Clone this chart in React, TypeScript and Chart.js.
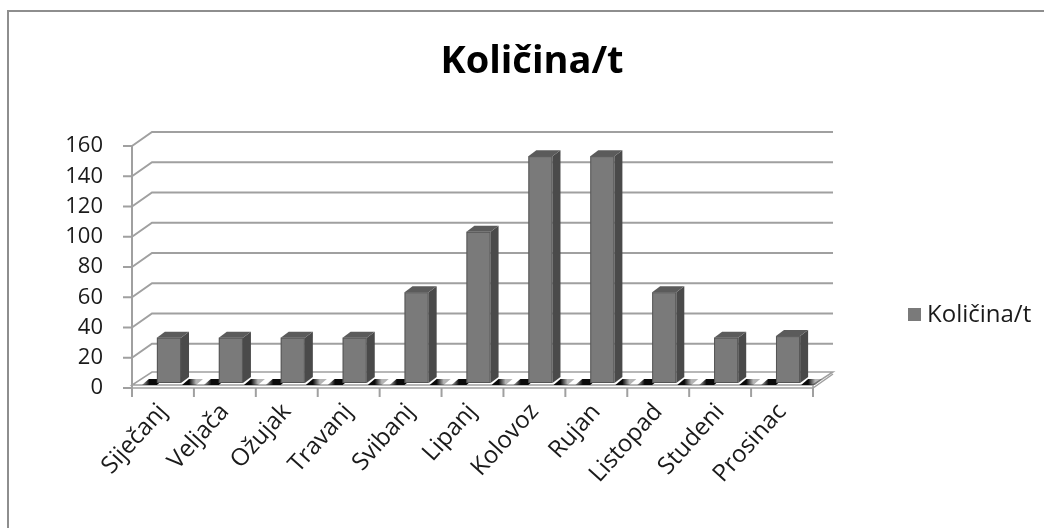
import React, { useEffect, useRef } from "react";
import { Chart, registerables } from "chart.js";

Chart.register(...registerables);

const months = [
  "Siječanj",
  "Veljača",
  "Ožujak",
  "Travanj",
  "Svibanj",
  "Lipanj",
  "Kolovoz",
  "Rujan",
  "Listopad",
  "Studeni",
  "Prosinac",
];
const quantities = [30, 30, 30, 30, 60, 100, 150, 150, 60, 30, 31];
const seriesLabel = "Količina/t";
const chartTitle = "Količina/t";
const yMin = 0;
const yMax = 160;
const yStep = 20;

const FONT = "'Open Sans', sans-serif";
const BAR_FRONT = "#7a7a7a";
const BAR_SIDE = "#4a4a4a";
const BAR_TOP = "#5b5b5b";
const GRID = "#a0a0a0";
const TEXT = "#1a1a1a";

// 3D depth geometry (pixels)
const WALL_DX = 20;
const WALL_DY = -14;
const BAR_OX = 6;
const BAR_OY = -5;
const BAR_DX = 8;
const BAR_DY = -6;

const threeD = {
  id: "threeD",
  beforeDatasetsDraw(chart: any) {
    const { ctx, chartArea } = chart;
    const ys = chart.scales.y;
    const left = chartArea.left;
    const right = chartArea.right;
    const base = ys.getPixelForValue(0);
    ctx.save();
    ctx.lineCap = "butt";

    // floor slab
    const fTop = base - 3;
    ctx.fillStyle = "#ffffff";
    ctx.strokeStyle = GRID;
    ctx.lineWidth = 1.5;
    ctx.beginPath();
    ctx.moveTo(left, fTop);
    ctx.lineTo(right, fTop);
    ctx.lineTo(right + WALL_DX, fTop + WALL_DY + 1);
    ctx.lineTo(left + WALL_DX, fTop + WALL_DY + 1);
    ctx.closePath();
    ctx.fill();
    ctx.stroke();
    ctx.beginPath();
    ctx.moveTo(left, base);
    ctx.lineTo(right, base);
    ctx.lineTo(right + WALL_DX, base + WALL_DY);
    ctx.moveTo(right, fTop);
    ctx.lineTo(right, base);
    ctx.stroke();

    // back wall gridlines + diagonals + y ticks
    ctx.strokeStyle = GRID;
    ctx.lineWidth = 2;
    for (let v = yMin; v <= yMax; v += yStep) {
      const py = ys.getPixelForValue(v);
      ctx.beginPath();
      if (v > yMin) {
        ctx.moveTo(left, py);
        ctx.lineTo(left + WALL_DX, py + WALL_DY);
        ctx.lineTo(right + WALL_DX, py + WALL_DY);
      }
      ctx.moveTo(left - 9, py);
      ctx.lineTo(left, py);
      ctx.stroke();
    }
    // y axis line
    ctx.beginPath();
    ctx.moveTo(left, ys.getPixelForValue(yMax));
    ctx.lineTo(left, base + 9);
    ctx.stroke();
    // x ticks at category boundaries
    const n = months.length;
    for (let i = 0; i <= n; i++) {
      const px = left + ((right - left) * i) / n;
      ctx.beginPath();
      ctx.moveTo(px, base);
      ctx.lineTo(px, base + 9);
      ctx.stroke();
    }

    // floor shadows next to each bar
    const meta = chart.getDatasetMeta(0);
    meta.data.forEach((el: any) => {
      const p = el.getProps(["x", "y", "base", "width"], true);
      const fl = p.x - p.width / 2 + BAR_OX;
      const fr = p.x + p.width / 2 + BAR_OX;
      const by = p.base + BAR_OY + 2;
      const drawBlob = (x0: number, x1: number, rev: boolean) => {
        const g = ctx.createLinearGradient(x0, 0, x1, 0);
        g.addColorStop(0, rev ? "rgba(10,10,10,1)" : "rgba(10,10,10,0.3)");
        g.addColorStop(0.5, "rgba(10,10,10,1)");
        g.addColorStop(1, rev ? "rgba(10,10,10,0.3)" : "rgba(10,10,10,1)");
        ctx.fillStyle = g;
        ctx.beginPath();
        ctx.moveTo(x0, by);
        ctx.lineTo(x1, by);
        ctx.lineTo(x1 + 7, by - 6);
        ctx.lineTo(x0 + 7, by - 6);
        ctx.closePath();
        ctx.fill();
      };
      drawBlob(fl - 15, fl, false);
      drawBlob(fr + 1, fr + 15, true);
    });
    ctx.restore();
  },
  afterDatasetsDraw(chart: any) {
    const { ctx } = chart;
    const meta = chart.getDatasetMeta(0);
    ctx.save();
    meta.data.forEach((el: any) => {
      const p = el.getProps(["x", "y", "base", "width"], true);
      const l = p.x - p.width / 2 + BAR_OX;
      const r = p.x + p.width / 2 + BAR_OX;
      const t = p.y + BAR_OY;
      const b = p.base + BAR_OY;
      // side face
      ctx.fillStyle = BAR_SIDE;
      ctx.beginPath();
      ctx.moveTo(r, t);
      ctx.lineTo(r + BAR_DX, t + BAR_DY);
      ctx.lineTo(r + BAR_DX, b + BAR_DY);
      ctx.lineTo(r, b);
      ctx.closePath();
      ctx.fill();
      // top face
      ctx.fillStyle = BAR_TOP;
      ctx.beginPath();
      ctx.moveTo(l, t);
      ctx.lineTo(l + BAR_DX, t + BAR_DY);
      ctx.lineTo(r + BAR_DX, t + BAR_DY);
      ctx.lineTo(r, t);
      ctx.closePath();
      ctx.fill();
      // front face
      ctx.fillStyle = BAR_FRONT;
      ctx.fillRect(l, t, r - l, b - t);
      ctx.strokeStyle = "rgba(60,60,60,0.6)";
      ctx.lineWidth = 1;
      ctx.strokeRect(l + 0.5, t + 0.5, r - l - 1, b - t - 1);
    });
    ctx.restore();
  },
  afterDraw(chart: any) {
    const { ctx } = chart;
    ctx.save();
    // title
    ctx.fillStyle = "#000000";
    ctx.font = `bold 38px ${FONT}`;
    ctx.textAlign = "center";
    ctx.textBaseline = "middle";
    ctx.fillText(chartTitle, 532, 62);
    // legend
    ctx.fillStyle = BAR_FRONT;
    ctx.fillRect(908, 308, 13, 13);
    ctx.fillStyle = TEXT;
    ctx.font = `24px ${FONT}`;
    ctx.textAlign = "left";
    ctx.fillText(chart.data.datasets[0].label, 927, 315);
    ctx.restore();
  },
};

export default function App() {
  const ref = useRef<HTMLCanvasElement | null>(null);
  useEffect(() => {
    if (!ref.current) return;
    const chart = new Chart(ref.current, {
      type: "bar",
      data: {
        labels: months,
        datasets: [
          {
            label: seriesLabel,
            data: quantities,
            backgroundColor: "rgba(0,0,0,0)",
            borderWidth: 0,
            categoryPercentage: 1,
            barPercentage: 0.39,
          },
        ],
      },
      options: {
        responsive: false,
        animation: false,
        devicePixelRatio: 1,
        layout: { padding: { top: 146, right: 231, left: 0, bottom: 0 } },
        plugins: {
          legend: { display: false },
          title: { display: false },
          tooltip: { enabled: false },
        },
        scales: {
          x: {
            grid: { display: false },
            border: { display: false },
            ticks: {
              maxRotation: 48,
              minRotation: 48,
              autoSkip: false,
              padding: 2,
              color: TEXT,
              font: { family: FONT, size: 24 },
            },
            afterFit(scale: any) {
              scale.height = 140;
            },
          },
          y: {
            min: yMin,
            max: yMax,
            grid: { display: false },
            border: { display: false },
            ticks: {
              stepSize: yStep,
              padding: 21,
              color: TEXT,
              font: { family: FONT, size: 22 },
            },
            afterFit(scale: any) {
              scale.width = 132;
            },
          },
        },
      },
      plugins: [threeD],
    });
    return () => chart.destroy();
  }, []);

  return (
    <div
      style={{
        position: "fixed",
        left: 0,
        top: 0,
        width: 1044,
        height: 528,
        overflow: "hidden",
        background: "#ffffff",
      }}
    >
      <div
        style={{
          position: "absolute",
          left: 7,
          top: 10,
          width: 1400,
          height: 800,
          border: "2px solid #8e8e8e",
          boxSizing: "border-box",
        }}
      />
      <canvas
        ref={ref}
        width={1044}
        height={528}
        style={{ position: "absolute", left: 0, top: 0, width: 1044, height: 528 }}
      />
    </div>
  );
}
